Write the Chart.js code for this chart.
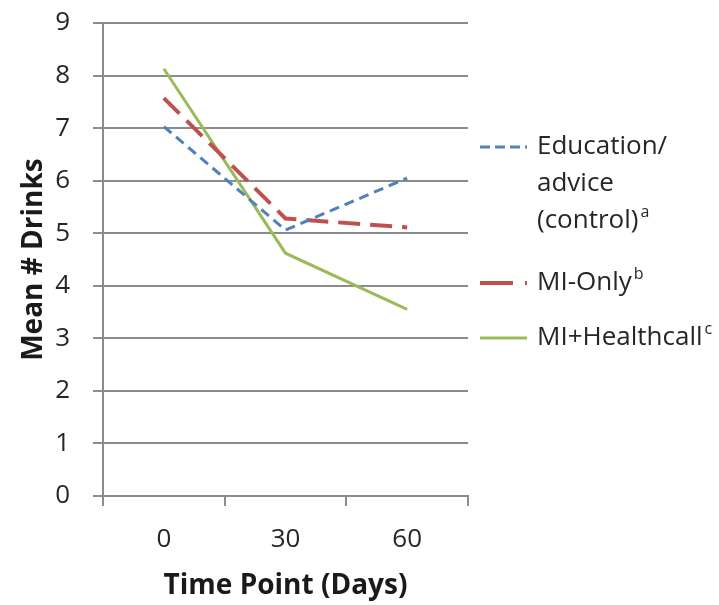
<!DOCTYPE html>
<html>
<head>
<meta charset="utf-8">
<script src="https://cdn.jsdelivr.net/npm/chart.js@4/dist/chart.umd.min.js"></script>
<style>
  html, body { margin: 0; padding: 0; background: #fff; }
  #wrap { width: 719px; height: 605px; }
</style>
</head>
<body>
<div id="wrap"><canvas id="c"></canvas></div>
<script>
'use strict';

const timePoints = ['0', '30', '60'];
const educationAdvice = [7.03, 5.06, 6.05];
const miOnly = [7.57, 5.28, 5.11];
const miHealthcall = [8.13, 4.62, 3.55];

const legendLines = [
    ['Education/', 'advice', ['(control)', 'a']],
    [['MI-Only', 'b']],
    [['MI+Healthcall', 'c']],
];

const fontFamily = '"Open Sans", sans-serif';

// legend drawn by hand, the text needs line breaks and superscripts
const sideLegend = {
    id: 'sideLegend',
    afterDraw(chart) {
        const ctx = chart.ctx;
        const rows = [[147, 184, 221], [283], [338]];
        ctx.save();
        chart.data.datasets.forEach((ds, i) => {
            const y0 = rows[i][0];
            ctx.beginPath();
            ctx.strokeStyle = ds.borderColor;
            ctx.lineWidth = ds.borderWidth;
            ctx.setLineDash(ds.legendDash || []);
            ctx.moveTo(480, y0);
            ctx.lineTo(527, y0);
            ctx.stroke();
            ctx.setLineDash([]);
            ctx.fillStyle = '#262626';
            ctx.textBaseline = 'middle';
            legendLines[i].forEach((line, j) => {
                const y = rows[i][j];
                const main = Array.isArray(line) ? line[0] : line;
                ctx.font = '26px ' + fontFamily;
                ctx.fillText(main, 537, y);
                if (Array.isArray(line)) {
                    const w = ctx.measureText(main).width;
                    ctx.font = '16px ' + fontFamily;
                    ctx.fillText(line[1], 537 + w + 2, y - 9);
                }
            });
        });
        ctx.restore();
    },
};

new Chart(document.getElementById('c').getContext('2d'), {
    type: 'line',
    data: {
        labels: timePoints,
        datasets: [
            {
                label: 'Education/advice (control)',
                data: educationAdvice,
                borderColor: '#4f81bd',
                borderWidth: 3,
                borderDash: [10, 6],
                legendDash: [10, 5],
            },
            {
                label: 'MI-Only',
                data: miOnly,
                borderColor: '#c0504d',
                borderWidth: 4,
                borderDash: [22, 10],
                legendDash: [33, 12],
            },
            {
                label: 'MI+Healthcall',
                data: miHealthcall,
                borderColor: '#9bbb59',
                borderWidth: 3,
                borderDash: [],
                legendDash: [],
            },
        ],
    },
    options: {
        responsive: true,
        maintainAspectRatio: false,
        animation: false,
        layout: { padding: { top: 23, right: 251, left: 0, bottom: 0 } },
        elements: {
            point: { radius: 0, hoverRadius: 0 },
            line: { tension: 0, fill: false },
        },
        plugins: {
            legend: { display: false },
            tooltip: { enabled: false },
        },
        scales: {
            x: {
                offset: true,
                afterFit: s => { s.height = 109; },
                grid: {
                    offset: true,
                    drawOnChartArea: false,
                    drawTicks: true,
                    tickLength: 10,
                    color: '#8c8c8c',
                    lineWidth: 2,
                },
                border: { color: '#8c8c8c', width: 2 },
                ticks: {
                    padding: 18,
                    color: '#262626',
                    font: { family: fontFamily, size: 26 },
                },
                title: {
                    display: true,
                    text: 'Time Point (Days)',
                    color: '#1a1a1a',
                    padding: { top: 0, bottom: 2 },
                    font: { family: fontFamily, size: 28, weight: 'bold' },
                },
            },
            y: {
                min: 0,
                max: 9,
                afterFit: s => {
                    s.width = 103;
                    s.paddingTop = 0;
                    s.paddingBottom = 0;
                },
                grid: {
                    color: '#8c8c8c',
                    lineWidth: 2,
                    tickLength: 10,
                },
                border: { color: '#8c8c8c', width: 2 },
                ticks: {
                    stepSize: 1,
                    padding: 23,
                    color: '#262626',
                    font: { family: fontFamily, size: 26 },
                },
                title: {
                    display: true,
                    text: 'Mean # Drinks',
                    color: '#1a1a1a',
                    padding: { top: 17, bottom: 0 },
                    font: { family: fontFamily, size: 28, weight: 'bold' },
                },
            },
        },
    },
    plugins: [sideLegend],
});
</script>
</body>
</html>
